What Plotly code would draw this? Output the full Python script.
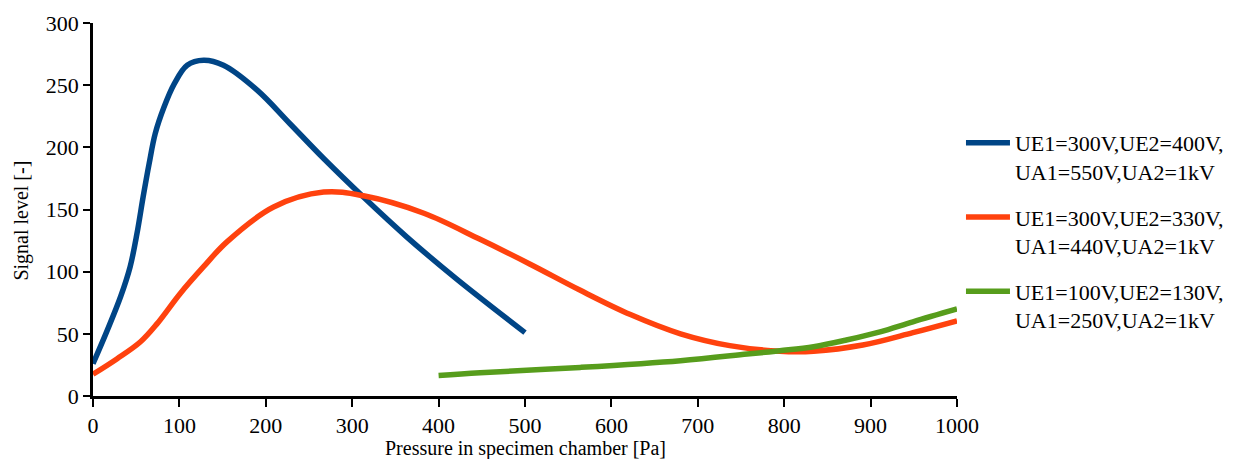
import plotly.graph_objects as go

# Data
blue_x = [0, 16, 32, 43, 51, 58, 65, 72, 82, 94, 109, 128, 151, 190, 228, 267, 313, 363, 421, 500]
blue_y = [26, 52, 80, 104, 131, 160, 187, 211, 232, 251, 266, 270, 266, 246, 219, 191, 160, 128, 94, 51]

orange_x = [0, 28, 55, 74, 101, 128, 155, 209, 267, 313, 383, 448, 506, 564, 622, 680, 737, 795, 834, 891, 949, 1000]
orange_y = [17.5, 30, 43.6, 58, 82.5, 104, 124, 152, 164, 161, 147, 126, 106, 85, 65.5, 50, 40.5, 36, 36, 41, 51, 60.5]

green_x = [400, 448, 564, 680, 757, 795, 834, 872, 911, 949, 1000]
green_y = [16.5, 18.7, 23, 28.4, 33.7, 36.4, 39.6, 45, 51.6, 59.7, 70]

names = [
    "UE1=300V,UE2=400V,<br>UA1=550V,UA2=1kV",
    "UE1=300V,UE2=330V,<br>UA1=440V,UA2=1kV",
    "UE1=100V,UE2=130V,<br>UA1=250V,UA2=1kV",
]
colors = ["#004586", "#ff420e", "#579d1c"]

x_ticks = list(range(0, 1001, 100))
y_ticks = list(range(0, 301, 50))

x_title = "Pressure in specimen chamber [Pa]"
y_title = "Signal level [-]"

FONT = "Liberation Serif, Times New Roman, serif"

fig = go.Figure()
for i, (xs, ys) in enumerate([(blue_x, blue_y), (orange_x, orange_y), (green_x, green_y)]):
    fig.add_trace(go.Scatter(
        x=xs, y=ys, mode="lines", name=names[i],
        line=dict(color=colors[i], width=5.5, shape="spline", smoothing=1.0),
        legendgroup=f"g{i}",
    ))

# the page body has an 8px margin, so the figure is 8px smaller and its margins shifted
fig.update_layout(
    width=1230, height=451,
    margin=dict(l=84.5, r=281, t=15, b=63, autoexpand=False),
    paper_bgcolor="white", plot_bgcolor="white",
    font=dict(family=FONT, size=22, color="#000000"),
    showlegend=True,
    legend=dict(
        x=1.0046, y=0.7346, xanchor="left", yanchor="top",
        font=dict(family=FONT, size=22, color="#000000"),
        tracegroupgap=14, valign="top", bgcolor="rgba(0,0,0,0)",
        itemwidth=44,
    ),
    xaxis=dict(
        range=[0, 1000], tickvals=x_ticks, ticktext=[str(v) for v in x_ticks],
        showgrid=False, zeroline=False, showline=True, linecolor="black", linewidth=2.5,
        ticks="outside", ticklen=8, tickwidth=2, tickcolor="black",
        tickfont=dict(family=FONT, size=22), automargin=False,
    ),
    yaxis=dict(
        range=[0, 300], tickvals=y_ticks, ticktext=[str(v) for v in y_ticks],
        showgrid=False, zeroline=False, showline=True, linecolor="black", linewidth=2.5,
        ticks="outside", ticklen=7, tickwidth=2, tickcolor="black",
        tickfont=dict(family=FONT, size=22), automargin=False,
    ),
    annotations=[
        dict(text=x_title, xref="paper", yref="paper", x=0.5, y=-0.142,
             xanchor="center", yanchor="middle", showarrow=False,
             font=dict(family=FONT, size=20)),
        dict(text=y_title, xref="paper", yref="paper", x=-0.0827, y=0.469,
             xanchor="center", yanchor="middle", showarrow=False, textangle=-90,
             font=dict(family=FONT, size=20)),
    ],
)

fig.write_html("out.html")
